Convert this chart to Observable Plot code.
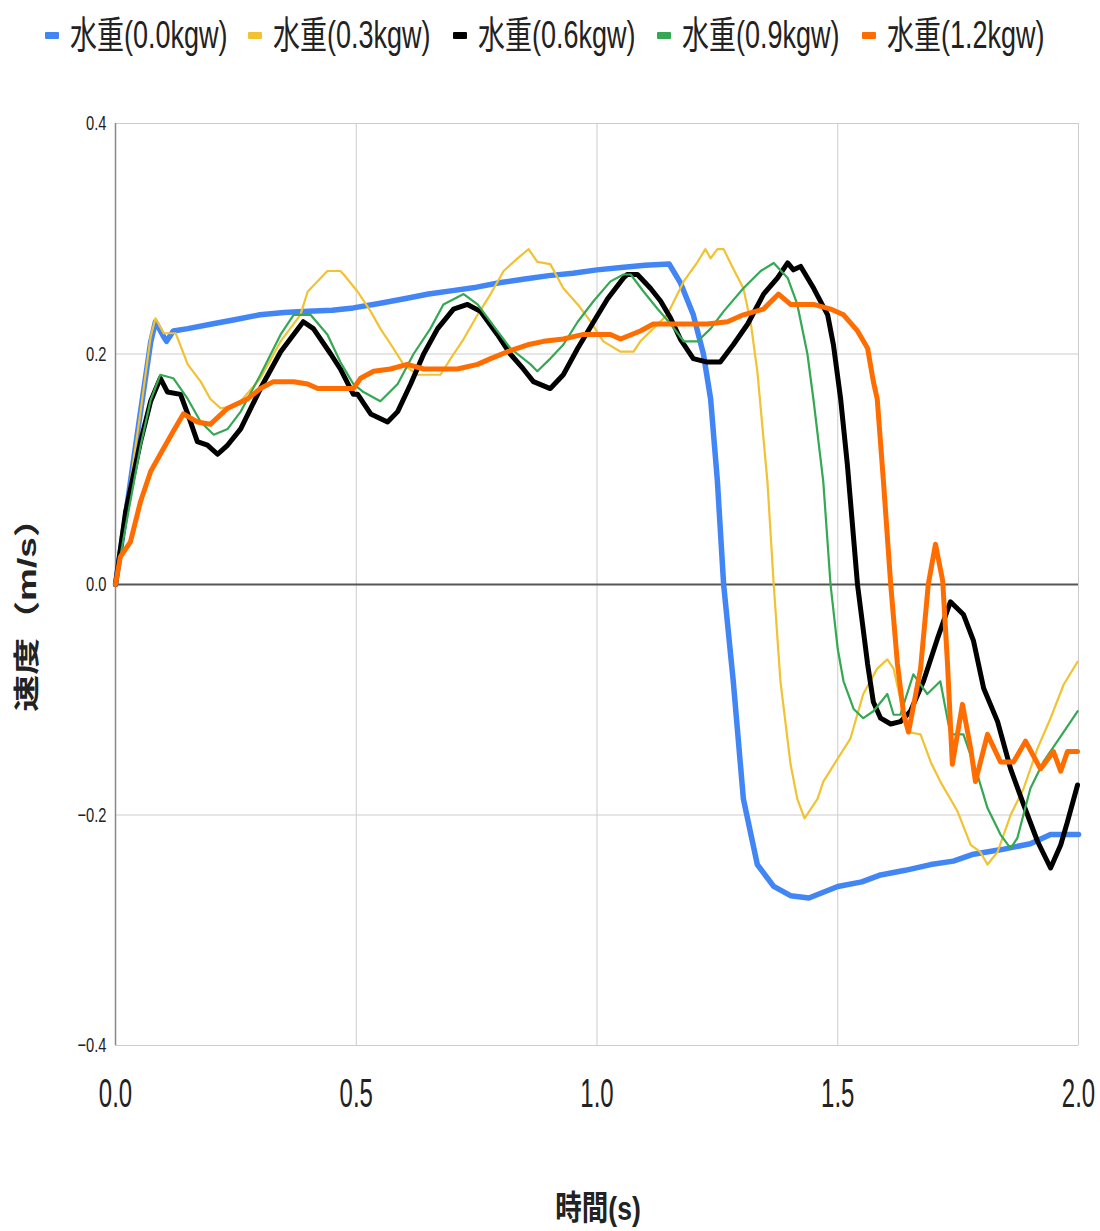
<!DOCTYPE html>
<html><head><meta charset="utf-8">
<script src="https://cdn.jsdelivr.net/npm/d3@7"></script>
<script src="https://cdn.jsdelivr.net/npm/@observablehq/plot@0.6"></script>
<style>
body{margin:0;background:#fff;}
#wrap{position:relative;width:1100px;height:1231px;overflow:hidden;}
#legend{position:relative;width:1100px;height:70px;}
.item{position:absolute;top:12px;height:46px;}
.sw{position:absolute;top:20px;width:14px;height:7px;border-radius:1px;}
.lt{position:absolute;left:25px;top:0;white-space:nowrap;font-family:"Liberation Sans","Noto Sans CJK JP",sans-serif;font-size:38px;line-height:46px;color:#222;transform:scaleX(0.71);transform-origin:0 50%;}
.title{position:absolute;font-family:"Liberation Sans","Noto Sans CJK JP",sans-serif;font-weight:bold;color:#222;white-space:nowrap;line-height:1;}
</style>
</head><body>
<div id="wrap">
<div id="legend"></div>
<div id="chart"></div>
<div class="title" id="xt" style="left:598px;top:1208px;font-size:34px;transform:translate(-50%,-50%) scaleX(0.78);">時間(s)</div>
<div class="title" id="yt" style="left:27px;top:606px;font-size:26px;transform:translate(-50%,-50%) rotate(-90deg) scaleX(1.42);">速度（m/s）</div>
</div>
<script>
const seriesNames = ["水重(0.0kgw)","水重(0.3kgw)","水重(0.6kgw)","水重(0.9kgw)","水重(1.2kgw)"];
const seriesColors = ["#4285F4","#F1C232","#000000","#34A853","#FF6D01"];
const seriesWidths = [5.5,2.2,5,2.2,5];
const xTicks = [0,0.5,1.0,1.5,2.0];
const yTicks = [-0.4,-0.2,0,0.2,0.4];

const t00 = [0,0.021,0.052,0.073,0.083,0.1,0.106,0.12,0.15,0.2,0.25,0.3,0.35,0.4,0.45,0.494,0.55,0.6,0.65,0.7,0.75,0.8,0.85,0.9,0.95,1.0,1.05,1.1,1.15,1.173,1.2,1.221,1.236,1.25,1.263,1.283,1.304,1.333,1.367,1.402,1.44,1.5,1.55,1.589,1.64,1.693,1.74,1.782,1.84,1.9,1.942,2.0];
const v00 = [0,0.06,0.15,0.21,0.228,0.215,0.211,0.22,0.222,0.226,0.23,0.234,0.236,0.237,0.238,0.24,0.244,0.248,0.252,0.255,0.258,0.262,0.265,0.268,0.27,0.273,0.275,0.277,0.278,0.262,0.234,0.2,0.161,0.09,0,-0.084,-0.186,-0.243,-0.262,-0.27,-0.272,-0.262,-0.258,-0.252,-0.248,-0.243,-0.24,-0.234,-0.23,-0.225,-0.217,-0.217];

const t03 = [0,0.021,0.052,0.073,0.083,0.1,0.125,0.15,0.177,0.197,0.218,0.245,0.26,0.301,0.343,0.384,0.399,0.44,0.467,0.474,0.503,0.53,0.55,0.577,0.598,0.627,0.675,0.696,0.723,0.752,0.779,0.806,0.835,0.858,0.876,0.903,0.93,0.96,0.987,1.013,1.049,1.076,1.09,1.146,1.18,1.209,1.225,1.236,1.25,1.263,1.283,1.304,1.319,1.333,1.354,1.367,1.381,1.402,1.416,1.431,1.458,1.47,1.5,1.526,1.553,1.582,1.603,1.616,1.645,1.672,1.693,1.713,1.749,1.776,1.796,1.811,1.832,1.859,1.886,1.915,1.942,1.969,1.998];
const v03 = [0,0.06,0.15,0.215,0.231,0.218,0.218,0.191,0.176,0.161,0.153,0.154,0.159,0.179,0.211,0.234,0.254,0.272,0.272,0.269,0.254,0.237,0.222,0.205,0.191,0.182,0.182,0.196,0.213,0.234,0.252,0.272,0.283,0.291,0.28,0.278,0.257,0.243,0.228,0.211,0.202,0.202,0.211,0.234,0.263,0.28,0.291,0.283,0.291,0.291,0.274,0.257,0.228,0.185,0.089,0,-0.084,-0.156,-0.186,-0.203,-0.186,-0.171,-0.151,-0.134,-0.095,-0.073,-0.065,-0.073,-0.128,-0.13,-0.154,-0.171,-0.197,-0.226,-0.232,-0.243,-0.232,-0.2,-0.177,-0.142,-0.116,-0.087,-0.067];

const t06 = [0,0.021,0.052,0.073,0.093,0.108,0.135,0.15,0.17,0.191,0.212,0.233,0.26,0.301,0.343,0.39,0.411,0.447,0.467,0.494,0.503,0.53,0.565,0.586,0.613,0.64,0.669,0.702,0.731,0.758,0.793,0.82,0.847,0.868,0.903,0.93,0.96,0.993,1.022,1.055,1.063,1.084,1.111,1.132,1.153,1.173,1.2,1.229,1.256,1.283,1.313,1.346,1.375,1.396,1.408,1.423,1.45,1.479,1.491,1.506,1.52,1.541,1.562,1.574,1.589,1.61,1.63,1.651,1.678,1.707,1.734,1.761,1.782,1.803,1.832,1.859,1.886,1.915,1.942,1.963,1.977,1.998];
const v06 = [0,0.063,0.124,0.159,0.179,0.167,0.165,0.148,0.124,0.121,0.113,0.121,0.135,0.17,0.202,0.228,0.222,0.2,0.187,0.165,0.165,0.148,0.141,0.15,0.174,0.2,0.222,0.239,0.243,0.237,0.217,0.2,0.187,0.176,0.17,0.182,0.205,0.228,0.248,0.266,0.269,0.269,0.257,0.246,0.231,0.213,0.196,0.193,0.193,0.208,0.226,0.252,0.266,0.279,0.273,0.276,0.257,0.234,0.208,0.161,0.104,0,-0.069,-0.102,-0.116,-0.121,-0.119,-0.11,-0.084,-0.047,-0.015,-0.026,-0.049,-0.09,-0.119,-0.16,-0.191,-0.223,-0.246,-0.226,-0.206,-0.174];

const t09 = [0,0.021,0.052,0.073,0.093,0.12,0.15,0.177,0.204,0.233,0.26,0.301,0.343,0.37,0.405,0.44,0.467,0.494,0.515,0.55,0.586,0.619,0.654,0.681,0.723,0.752,0.793,0.82,0.862,0.876,0.903,0.93,0.96,0.993,1.028,1.055,1.07,1.097,1.126,1.153,1.18,1.209,1.236,1.263,1.304,1.34,1.367,1.396,1.416,1.437,1.45,1.47,1.485,1.5,1.512,1.533,1.553,1.574,1.603,1.616,1.63,1.657,1.686,1.713,1.734,1.761,1.79,1.811,1.838,1.859,1.873,1.9,1.927,1.969,1.998];
const v09 = [0,0.05,0.12,0.16,0.182,0.179,0.161,0.141,0.13,0.135,0.15,0.182,0.217,0.234,0.234,0.217,0.193,0.174,0.167,0.159,0.174,0.2,0.222,0.243,0.252,0.243,0.22,0.205,0.191,0.185,0.196,0.208,0.228,0.246,0.263,0.269,0.269,0.254,0.239,0.226,0.211,0.211,0.222,0.237,0.257,0.272,0.279,0.266,0.243,0.2,0.159,0.089,0,-0.056,-0.084,-0.108,-0.116,-0.11,-0.095,-0.113,-0.113,-0.078,-0.095,-0.084,-0.13,-0.13,-0.165,-0.194,-0.217,-0.229,-0.22,-0.177,-0.154,-0.128,-0.11];

const t12 = [0,0.01,0.031,0.052,0.073,0.093,0.12,0.141,0.17,0.197,0.233,0.274,0.301,0.328,0.37,0.399,0.42,0.494,0.509,0.536,0.571,0.606,0.64,0.71,0.752,0.779,0.814,0.856,0.889,0.93,0.972,1.028,1.049,1.09,1.117,1.188,1.229,1.271,1.304,1.346,1.377,1.402,1.45,1.485,1.512,1.541,1.562,1.574,1.582,1.595,1.61,1.624,1.637,1.647,1.672,1.688,1.703,1.718,1.728,1.738,1.759,1.776,1.786,1.811,1.838,1.865,1.89,1.921,1.948,1.963,1.977,1.998];
const v12 = [0,0.024,0.037,0.072,0.098,0.113,0.133,0.148,0.141,0.139,0.153,0.161,0.17,0.176,0.176,0.174,0.17,0.17,0.179,0.185,0.187,0.191,0.187,0.187,0.191,0.196,0.202,0.208,0.211,0.213,0.217,0.217,0.213,0.22,0.226,0.226,0.226,0.228,0.234,0.239,0.252,0.243,0.243,0.239,0.234,0.22,0.205,0.176,0.161,0.089,0,-0.069,-0.113,-0.128,-0.073,0,0.035,0.003,-0.069,-0.156,-0.104,-0.142,-0.171,-0.13,-0.154,-0.154,-0.136,-0.16,-0.145,-0.162,-0.145,-0.145];

const times = [t00,t03,t06,t09,t12];
const vels = [v00,v03,v06,v09,v12];

const rows = [];
seriesNames.forEach((name,k)=>times[k].forEach((t,i)=>rows.push({t, v: vels[k][i], name})));

// legend
const legend = document.getElementById("legend");
const legendLeft = [45,248,453,657,862];
seriesNames.forEach((n,k)=>{
  const it = document.createElement("div"); it.className="item"; it.style.left=legendLeft[k]+"px";
  const sw = document.createElement("div"); sw.className="sw"; sw.style.background=seriesColors[k];
  const lt = document.createElement("div"); lt.className="lt"; lt.textContent=n;
  it.appendChild(sw); it.appendChild(lt); legend.appendChild(it);
});

const fmt = d3.format(".1f");
const chart = Plot.plot({
  width:1100, height:1161,
  marginTop:53, marginBottom:186, marginLeft:115, marginRight:22,
  style:{fontFamily:"Liberation Sans, Arial, sans-serif", color:"#222", background:"#fff"},
  x:{domain:[0,2]},
  y:{domain:[-0.4,0.4]},
  marks:[
    Plot.gridX(xTicks.slice(1), {stroke:"#cccccc", strokeOpacity:1, strokeWidth:1}),
    Plot.gridY(yTicks.filter(d=>d!==0), {stroke:"#cccccc", strokeOpacity:1, strokeWidth:1}),
    Plot.ruleX([0], {stroke:"#888", strokeWidth:1.5}),
    Plot.ruleY([0], {stroke:"#555", strokeWidth:2}),
    Plot.axisX(xTicks, {tickSize:0, tickPadding:33, fontSize:40, tickFormat:fmt, label:null}),
    Plot.axisY(yTicks, {tickSize:0, tickPadding:9, fontSize:21, tickFormat:fmt, label:null}),
    ...seriesNames.map((n,k)=>Plot.line(rows.filter(r=>r.name===n), {x:"t", y:"v", stroke:seriesColors[k], strokeWidth:seriesWidths[k], strokeLinejoin:"round", strokeLinecap:"round"}))
  ]
});
document.getElementById("chart").appendChild(chart);
// narrow the tick lettering horizontally, as in the reference
chart.querySelectorAll('g[aria-label="x-axis tick label"] text').forEach(t=>{
  const L = t.getComputedTextLength(), W = L*0.6;
  t.setAttribute("textLength", W); t.setAttribute("lengthAdjust","spacingAndGlyphs");
  // keep the label visually centred on its tick while anchoring at its right end
  t.setAttribute("text-anchor","end"); t.setAttribute("dx", W/2);
});
chart.querySelectorAll('g[aria-label="y-axis tick label"] text').forEach(t=>{
  const L = t.getComputedTextLength(); t.setAttribute("textLength", L*0.7); t.setAttribute("lengthAdjust","spacingAndGlyphs");
});
</script>
</body></html>
